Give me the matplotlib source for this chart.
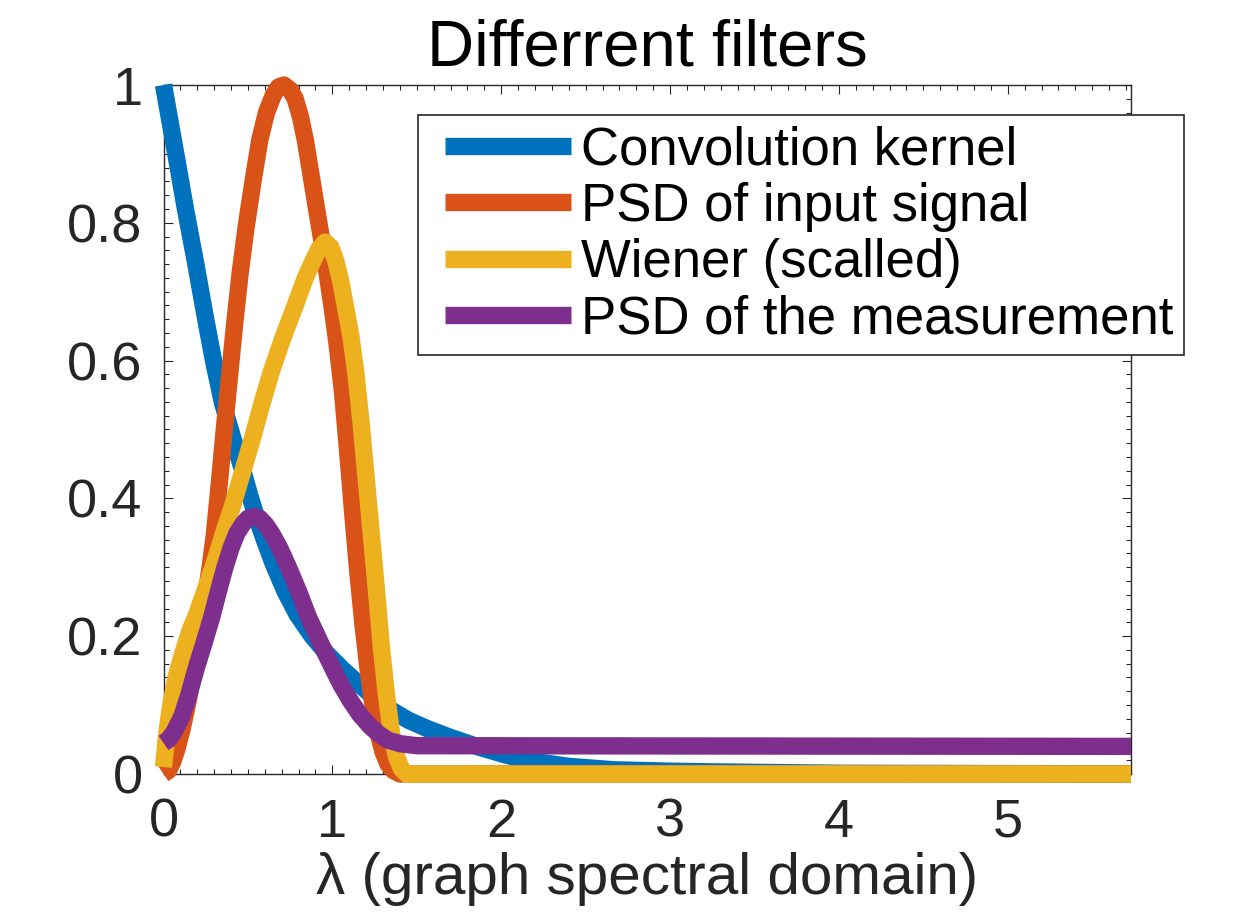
import numpy as np
import matplotlib
matplotlib.use("Agg")
import matplotlib.pyplot as plt
from matplotlib.ticker import MultipleLocator
from matplotlib.legend_handler import HandlerLine2D

plt.rcParams['font.family'] = ['Liberation Sans', 'DejaVu Sans']

# values
lam_kernel = [0.0, 0.04, 0.08, 0.13, 0.19, 0.25, 0.30, 0.35, 0.41, 0.47, 0.51, 0.55,
              0.60, 0.65, 0.72, 0.79, 0.88, 0.97, 1.06, 1.15, 1.25, 1.34, 1.45, 1.56,
              1.70, 1.88, 2.02, 2.17, 2.40, 2.67, 3.0, 3.26, 4.0, 5.0, 5.73]
kernel = [1.0, 0.945, 0.89, 0.82, 0.742, 0.66, 0.595, 0.538, 0.488, 0.44, 0.405, 0.373,
          0.338, 0.305, 0.265, 0.232, 0.20, 0.174, 0.152, 0.132, 0.111, 0.094, 0.078, 0.066,
          0.053, 0.038, 0.028, 0.019, 0.011, 0.006, 0.004, 0.003, 0.001, 0.0005, 0.0003]

lam_input = [0.0, 0.03, 0.055, 0.078, 0.11, 0.147, 0.18, 0.216, 0.246, 0.276, 0.30,
             0.33, 0.36, 0.39, 0.42, 0.453, 0.49, 0.53, 0.57, 0.61, 0.65, 0.68, 0.713,
             0.75, 0.78, 0.81, 0.84, 0.87, 0.90, 0.937, 0.97, 1.0, 1.03, 1.06, 1.09,
             1.12, 1.15, 1.18, 1.21, 1.24, 1.27, 1.30, 1.33, 1.36, 1.40, 5.73]
psd_input = [0.0, 0.005, 0.018, 0.035, 0.065, 0.107, 0.152, 0.204, 0.25, 0.30, 0.345,
             0.42, 0.50, 0.575, 0.65, 0.725, 0.795, 0.86, 0.92, 0.96, 0.985, 0.997, 1.0,
             0.993, 0.98, 0.955, 0.92, 0.875, 0.83, 0.775, 0.725, 0.675, 0.62, 0.555, 0.47,
             0.38, 0.295, 0.22, 0.155, 0.10, 0.06, 0.032, 0.014, 0.005, 0.0, 0.0]

lam_wiener = [0.0, 0.02, 0.043, 0.074, 0.10, 0.127, 0.16, 0.197, 0.23, 0.265, 0.30,
              0.35, 0.41, 0.47, 0.53, 0.58, 0.64, 0.71, 0.78, 0.84, 0.88, 0.92, 0.957,
              0.99, 1.02, 1.05, 1.08, 1.11, 1.14, 1.17, 1.20, 1.23, 1.26, 1.29, 1.32,
              1.35, 1.38, 1.41, 1.44, 5.73]
wiener = [0.01, 0.06, 0.10, 0.14, 0.163, 0.185, 0.21, 0.232, 0.255, 0.28, 0.305,
          0.345, 0.39, 0.44, 0.49, 0.535, 0.585, 0.635, 0.68, 0.72, 0.742, 0.762, 0.772,
          0.765, 0.745, 0.715, 0.675, 0.635, 0.58, 0.51, 0.43, 0.35, 0.27, 0.185, 0.115,
          0.06, 0.025, 0.007, 0.0, 0.0]

lam_meas = [0.0, 0.03, 0.06, 0.108, 0.15, 0.197, 0.24, 0.286, 0.325, 0.364, 0.40,
            0.434, 0.47, 0.50, 0.536, 0.57, 0.605, 0.641, 0.69, 0.74, 0.80, 0.858,
            0.93, 0.997, 1.05, 1.105, 1.16, 1.224, 1.28, 1.33, 1.40, 1.50, 5.73]
psd_meas = [0.045, 0.05, 0.06, 0.083, 0.115, 0.156, 0.19, 0.228, 0.265, 0.30, 0.328,
            0.349, 0.363, 0.371, 0.374, 0.371, 0.362, 0.349, 0.327, 0.30, 0.265, 0.228,
            0.19, 0.156, 0.13, 0.107, 0.087, 0.069, 0.057, 0.049, 0.044, 0.041, 0.040]

labels = ['Convolution kernel', 'PSD of input signal', 'Wiener (scalled)',
          'PSD of the measurement']
colors = ['#0072BD', '#D95319', '#EDB120', '#7E2F8E']
gray = '#262626'

fig = plt.figure(figsize=(12.5, 9.17), dpi=100)
ax = fig.add_axes([0.1308, 0.156, 0.9048 - 0.1308, 0.9073 - 0.156])

series = [(lam_kernel, kernel), (lam_input, psd_input),
          (lam_wiener, wiener), (lam_meas, psd_meas)]
for (x, y), c, lab in zip(series, colors, labels):
    ax.plot(x, y, color=c, lw=12.5, label=lab, clip_on=False, zorder=3,
            solid_capstyle='butt', solid_joinstyle='round')

ax.set_xlim(0, 5.73)
ax.set_ylim(0, 1)
ax.xaxis.set_major_locator(MultipleLocator(1))
ax.xaxis.set_minor_locator(MultipleLocator(0.1))
ax.yaxis.set_major_locator(MultipleLocator(0.2))
ax.yaxis.set_minor_locator(MultipleLocator(0.02))
ax.set_yticks([0, 0.2, 0.4, 0.6, 0.8, 1])
ax.set_yticklabels(['0', '0.2', '0.4', '0.6', '0.8', '1'])

ax.tick_params(which='both', direction='in', top=True, right=True,
               colors=gray, width=0.8, labelsize=39)
ax.tick_params(which='major', length=6.5)
ax.tick_params(which='minor', length=3.6)
ax.tick_params(axis='x', pad=17)
ax.tick_params(axis='y', pad=15)
for s in ax.spines.values():
    s.set_color(gray)
    s.set_linewidth(1.0)

ax.set_title('Differrent filters', fontsize=47, pad=14)
ax.set_xlabel('λ (graph spectral domain)', fontsize=42, color=gray, labelpad=3)

fs = 38
leg = ax.legend(loc='upper left', bbox_to_anchor=(418 / 1250, 1 - 115 / 917),
                bbox_transform=fig.transFigure, fontsize=fs, borderaxespad=0,
                borderpad=0.2, labelspacing=0.12, handlelength=2.69,
                handletextpad=0.2, fancybox=False, framealpha=1,
                edgecolor=gray,
                handler_map={matplotlib.lines.Line2D: HandlerLine2D(xpad=0.31)})
leg.get_frame().set_linewidth(1.2)
leg.set_zorder(5)

fig.savefig('out.png', dpi=100)
